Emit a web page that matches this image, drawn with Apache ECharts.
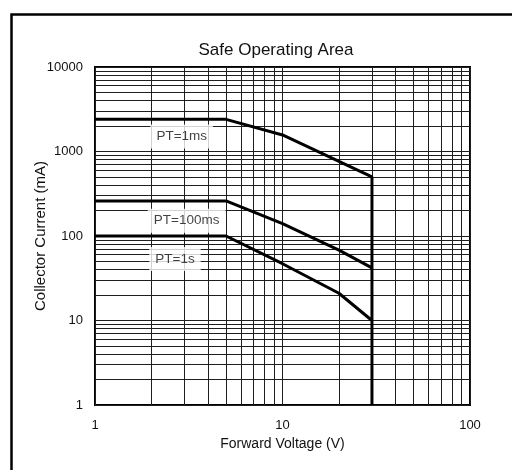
<!DOCTYPE html>
<html>
<head>
<meta charset="utf-8">
<script src="https://cdn.jsdelivr.net/npm/echarts@6/dist/echarts.min.js"></script>
<style>
html,body{margin:0;padding:0;background:#fff;}
#chart{width:512px;height:470px;}
</style>
</head>
<body>
<div id="chart"></div>
<script>
// ---- data ----
var titleText = 'Safe Operating Area';
var xAxisName = 'Forward Voltage (V)';
var yAxisName = 'Collector Current (mA)';
var xTickLabels = [1, 10, 100];
var yTickLabels = [1, 10, 100, 1000, 10000];

var pt1msX = [1, 5, 10, 30, 30];
var pt1msY = [2400, 2400, 1570, 500, 1];

var pt100msX = [1, 5, 10, 20, 30];
var pt100msY = [260, 260, 140, 68, 42];

var pt1sX = [1, 5, 10, 20, 30];
var pt1sY = [100, 100, 47, 21, 10];

var labelTexts = ['PT=1ms', 'PT=100ms', 'PT=1s'];
var labelX = [2.9, 3.08, 2.67];
var labelY = [1500, 152, 53.5];

var gridMultipliers = [2, 3, 4, 5, 6, 7, 8, 9];
var xDecades = [1, 10];
var yDecades = [1, 10, 100, 1000];

// ---- build ----
function pairs(xs, ys) { return xs.map(function (x, i) { return [x, ys[i]]; }); }
var font = "'Liberation Sans', Arial, sans-serif";
var gridColor = '#1e1e1e';

var minorLines = [];
xDecades.forEach(function (d) {
  gridMultipliers.forEach(function (m) { minorLines.push({ xAxis: d * m }); });
});
yDecades.forEach(function (d) {
  gridMultipliers.forEach(function (m) { minorLines.push({ yAxis: d * m }); });
});

function curve(name, xs, ys) {
  return {
    name: name, type: 'line', data: pairs(xs, ys),
    symbol: 'none', z: 5,
    lineStyle: { color: '#000', width: 3 },
    animation: false
  };
}

var chart = echarts.init(document.getElementById('chart'), null, { renderer: 'canvas' });
chart.setOption({
  backgroundColor: '#fff',
  animation: false,
  textStyle: { fontFamily: font },
  title: {
    text: titleText,
    left: 271, top: 37, textAlign: 'center',
    textStyle: { fontFamily: font, fontSize: 17, fontWeight: 'normal', color: '#111' }
  },
  graphic: [{
    type: 'rect', left: 9, top: 12, z: 100,
    shape: { x: 0, y: 0, width: 620, height: 620 },
    style: { fill: 'none', stroke: '#000', lineWidth: 2.5 }
  }],
  grid: {
    left: 95, right: 42, top: 67, bottom: 65,
    show: true, borderColor: '#000', borderWidth: 2, backgroundColor: 'transparent'
  },
  xAxis: {
    type: 'log', logBase: 10, min: 1, max: 100,
    name: xAxisName, nameLocation: 'middle', nameGap: 32, nameMoveOverlap: false,
    nameTextStyle: { fontFamily: font, fontSize: 14, color: '#111' },
    axisLine: { show: false },
    axisTick: { show: false },
    axisLabel: {
      fontFamily: font, fontSize: 13, color: '#111', margin: 14,
      formatter: function (v) { return xTickLabels.indexOf(v) >= 0 ? String(v) : ''; }
    },
    splitLine: { show: true, lineStyle: { color: gridColor, width: 1 } }
  },
  yAxis: {
    type: 'log', logBase: 10, min: 1, max: 10000,
    name: yAxisName, nameLocation: 'middle', nameGap: 47, nameRotate: 90, nameMoveOverlap: false,
    nameTextStyle: { fontFamily: font, fontSize: 15, color: '#111' },
    axisLine: { show: false },
    axisTick: { show: false },
    axisLabel: {
      fontFamily: font, fontSize: 13, color: '#111', margin: 12,
      formatter: function (v) { return yTickLabels.indexOf(v) >= 0 ? String(v) : ''; }
    },
    splitLine: { show: true, lineStyle: { color: gridColor, width: 1 } }
  },
  series: [
    {
      name: 'grid', type: 'line', data: [], z: 2, silent: true,
      markLine: {
        silent: true, symbol: ['none', 'none'], animation: false,
        label: { show: false },
        lineStyle: { color: gridColor, width: 1, type: 'solid' },
        data: minorLines
      }
    },
    curve('PT=1ms', pt1msX, pt1msY),
    curve('PT=100ms', pt100msX, pt100msY),
    curve('PT=1s', pt1sX, pt1sY),
    {
      name: 'labels', type: 'scatter', z: 6, silent: true,
      symbolSize: 0,
      data: labelTexts.map(function (t, i) { return { value: [labelX[i], labelY[i]], name: t }; }),
      label: {
        show: true, position: 'inside',
        formatter: function (p) { return p.name; },
        fontFamily: font, fontSize: 13.5, color: '#111',
        backgroundColor: '#fff', padding: [5, 6]
      }
    }
  ]
});
</script>
</body>
</html>
